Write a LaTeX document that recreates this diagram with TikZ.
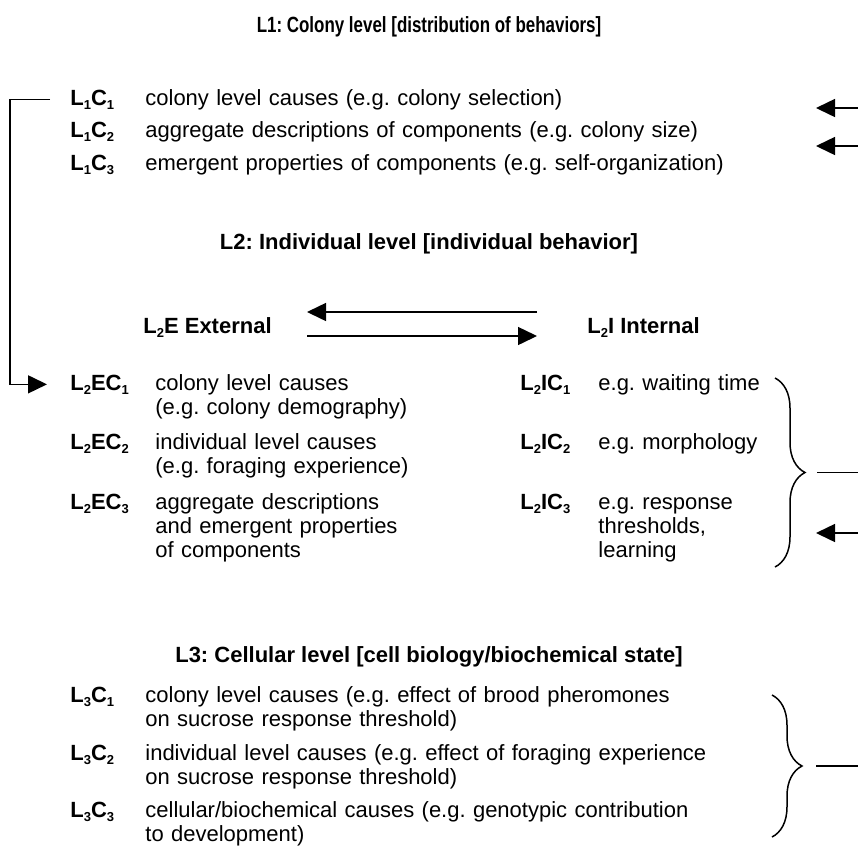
\documentclass[tikz,border=0pt]{standalone}
\usepackage{fontspec}
\setmainfont{Liberation Sans}
\usepackage{graphicx}
\usepackage{tikz}
\usetikzlibrary{arrows.meta, calc, decorations.pathreplacing}

\newcommand{\lsub}[1]{\raisebox{-0.35ex}{\fontsize{6.5}{7}\selectfont #1}}
\frenchspacing

\tikzstyle{heading} = [font=\fontsize{11}{12}\selectfont\bfseries, anchor=base, inner sep=0pt]
\tikzstyle{tag} = [font=\fontsize{11}{12}\selectfont\bfseries, anchor=base west, inner sep=0pt]
\tikzstyle{desc} = [font=\fontsize{11}{12}\selectfont, anchor=base west, inner sep=0pt, text width=300pt, align=left]
\tikzstyle{arrow} = [draw, -{Triangle[length=9.5pt, width=9pt]}, line width=0.75pt]
\tikzstyle{link} = [draw, line width=0.75pt]
\tikzstyle{curly} = [draw, line width=0.75pt, decorate, decoration={brace, amplitude=15pt}]

\begin{document}
\begin{tikzpicture}[x=0.5pt, y=-0.5pt]
    \useasboundingbox (0,0) rectangle (858,858);
    \coordinate (edge) at (858,0);

    % Colony level
    \node (l1head) [heading] at (429,32) {\scalebox{0.77}[1]{L1: Colony level [distribution of behaviors]}};
    \node (l1c1) [tag] at (70,105) {L\lsub{1}C\lsub{1}};
    \node (l1c1d) [desc] at (145,105) {colony level causes (e.g. colony selection)};
    \node (l1c2) [tag] at (70,137) {L\lsub{1}C\lsub{2}};
    \node (l1c2d) [desc] at (145,137) {aggregate descriptions of components (e.g. colony size)};
    \node (l1c3) [tag] at (70,170) {L\lsub{1}C\lsub{3}};
    \node (l1c3d) [desc] at (145,170) {emergent properties of components (e.g. self-organization)};

    \coordinate (in1) at (858,108);
    \coordinate (in2) at (858,146);
    \draw [arrow] (in1) -- ++(-21pt,0);
    \draw [arrow] (in2) -- ++(-21pt,0);

    % Individual level
    \node (l2head) [heading] at (429,249) {L2: Individual level [individual behavior]};
    \node (ext) [tag] at (143,333) {L\lsub{2}E External};
    \node (int) [tag] at (587,333) {L\lsub{2}I Internal};
    \coordinate (extin) at (307,312);
    \coordinate (extout) at (307,336);
    \coordinate (intout) at (537,312);
    \coordinate (intin) at (537,336);
    \draw [arrow] (intout) -- (extin);
    \draw [arrow] (extout) -- (intin);

    \node (l2ec1) [tag] at (70,390) {L\lsub{2}EC\lsub{1}};
    \node (l2ec1d) [desc] at (155,390) {colony level causes\\(e.g. colony demography)};
    \node (l2ec2) [tag] at (70,449) {L\lsub{2}EC\lsub{2}};
    \node (l2ec2d) [desc] at (155,449) {individual level causes\\(e.g. foraging experience)};
    \node (l2ec3) [tag] at (70,509) {L\lsub{2}EC\lsub{3}};
    \node (l2ec3d) [desc] at (155,509) {aggregate descriptions\\and emergent properties\\of components};

    \node (l2ic1) [tag] at (520,390) {L\lsub{2}IC\lsub{1}};
    \node (l2ic1d) [desc] at (598,390) {e.g. waiting time};
    \node (l2ic2) [tag] at (520,449) {L\lsub{2}IC\lsub{2}};
    \node (l2ic2d) [desc] at (598,449) {e.g. morphology};
    \node (l2ic3) [tag] at (520,509) {L\lsub{2}IC\lsub{3}};
    \node (l2ic3d) [desc] at (598,509) {e.g. response\\thresholds,\\learning};

    % colony causes feed down to the individual
    \draw [arrow] ([xshift=-10pt]l1c1.west) -- ++(-20pt,0) |- ([xshift=-11.5pt]l2ec1.west);

    \coordinate (b2top) at (775,378);
    \coordinate (b2bot) at (775,567);
    \draw [curly] (b2top) -- coordinate[midway] (b2mid) (b2bot);
    \draw [link] ([xshift=21pt]b2mid) -- (b2mid -| edge);
    \coordinate (in3) at (858,533);
    \draw [arrow] (in3) -- ++(-21pt,0);

    % Cellular level
    \node (l3head) [heading] at (429,662) {L3: Cellular level [cell biology/biochemical state]};
    \node (l3c1) [tag] at (70,702) {L\lsub{3}C\lsub{1}};
    \node (l3c1d) [desc] at (145,702) {colony level causes (e.g. effect of brood pheromones\\on sucrose response threshold)};
    \node (l3c2) [tag] at (70,760) {L\lsub{3}C\lsub{2}};
    \node (l3c2d) [desc] at (145,760) {individual level causes (e.g. effect of foraging experience\\on sucrose response threshold)};
    \node (l3c3) [tag] at (70,817) {L\lsub{3}C\lsub{3}};
    \node (l3c3d) [desc] at (145,817) {cellular/biochemical causes (e.g. genotypic contribution\\to development)};

    \coordinate (b3top) at (772,695);
    \coordinate (b3bot) at (772,837);
    \draw [curly] (b3top) -- coordinate[midway] (b3mid) (b3bot);
    \draw [link] ([xshift=22pt]b3mid) -- (b3mid -| edge);
\end{tikzpicture}
\end{document}
